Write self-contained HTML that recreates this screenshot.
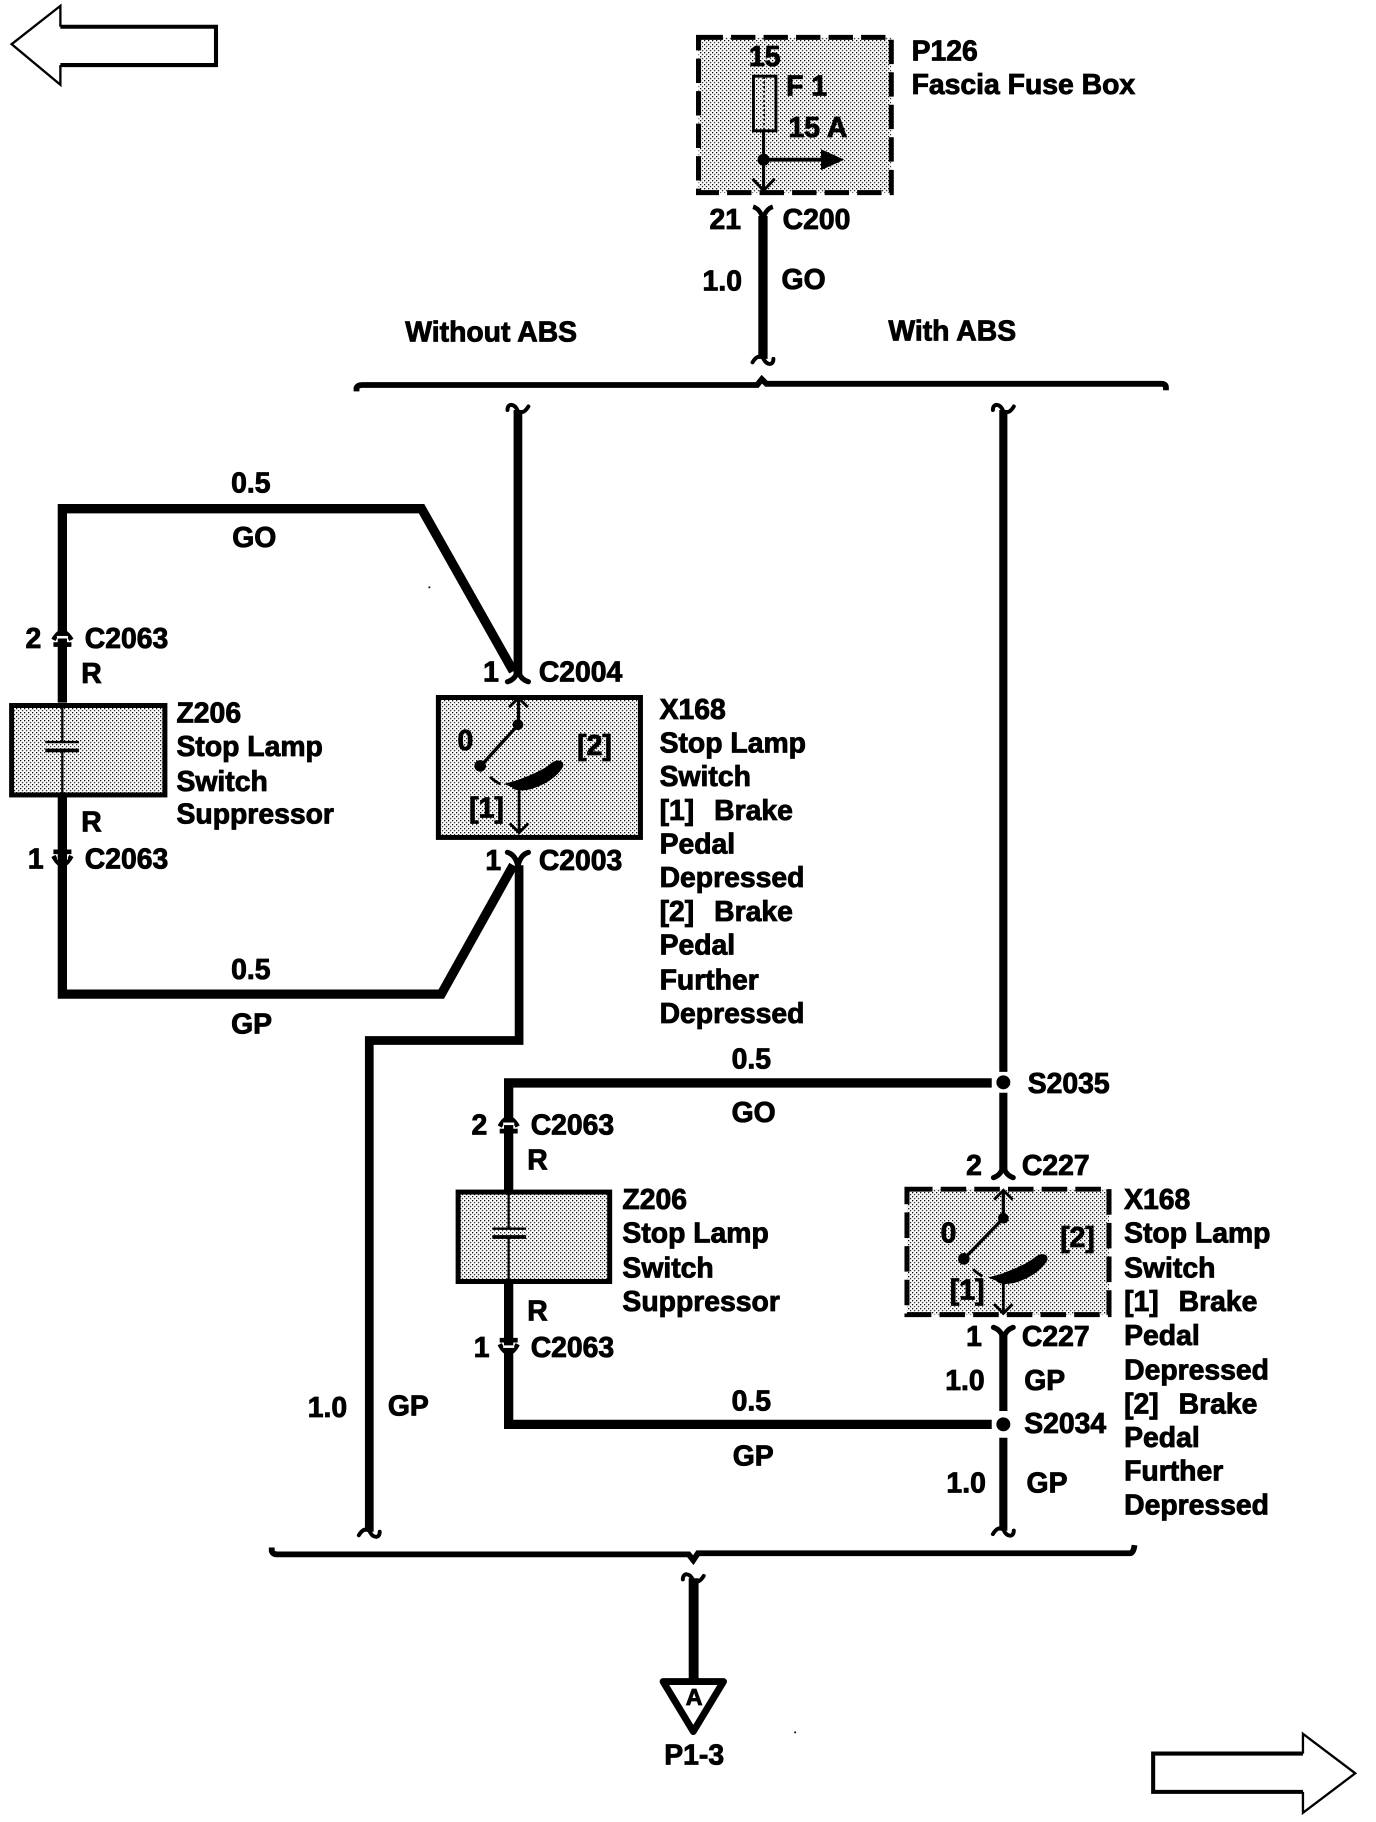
<!DOCTYPE html>
<html><head><meta charset="utf-8">
<style>
html,body{margin:0;padding:0;background:#fff;width:1376px;height:1822px;overflow:hidden}
svg{display:block}
text{font-family:"Liberation Sans",sans-serif;font-weight:bold;font-size:24.4px;fill:#000;stroke:#000;stroke-width:.75px}
.w{fill:none;stroke:#000;stroke-linejoin:miter}
.q{fill:none;stroke:#000;stroke-width:3.4;stroke-linecap:round}
</style></head><body>
<svg xmlns="http://www.w3.org/2000/svg" width="1376" height="1822" viewBox="0 0 1184.9 1568.9">
<defs>
<pattern id="d" width="3.4445" height="3.4445" patternUnits="userSpaceOnUse">
<rect width="3.4445" height="3.4445" fill="#fff"/>
<rect x="0" y="0" width="1.05" height="1.05" fill="#000"/>
<rect x="1.722" y="1.722" width="1.05" height="1.05" fill="#000"/>
</pattern>
</defs>
<rect width="1184.9" height="1568.9" fill="#fff"/>

<!-- page arrows -->
<path d="M52,23H186V56H52" class="w" stroke-width="3.5"/>
<path d="M52,23V5L10,38L52,73V56" class="w" stroke-width="2"/>
<path d="M1122,1510H993V1543H1122" class="w" stroke-width="3.5"/>
<path d="M1122,1510V1493L1167,1527L1122,1561V1543" class="w" stroke-width="2"/>

<!-- fuse box -->
<rect x="601.5" y="32.2" width="166" height="133.6" fill="url(#d)" stroke="#000" stroke-width="4.3" stroke-dasharray="21 7"/>
<rect x="648.8" y="65.6" width="19.4" height="47" fill="none" stroke="#000" stroke-width="2.5"/>
<path d="M658,66V112" class="w" stroke-width="1.5" stroke-dasharray="2 2"/>
<path d="M657.5,112V165M648,154L657.5,164L667,154" class="w" stroke-width="2.6"/>
<circle cx="657.5" cy="137.5" r="5.2"/>
<path d="M657.5,137.5H712" class="w" stroke-width="3.4"/>
<path d="M707,128.5L727,137.5L707,146.5Z"/>
<text x="645" y="57">15</text>
<text x="677" y="82">F 1</text>
<text x="679" y="118">15 A</text>
<text x="785" y="52">P126</text>
<text x="785" y="81">Fascia Fuse Box</text>

<path d="M648.5,178Q655,180 657,189Q659,180 665.5,178" class="w" stroke-width="4"/>
<path d="M657,186V309" class="w" stroke-width="8"/>
<path transform="translate(657,312) rotate(180)" d="M-9,3C-9,-3 -3,-3 0,4C3,6 6,5 9,0" class="q"/>
<text x="611" y="197">21</text>
<text x="674" y="197">C200</text>
<text x="605" y="250">1.0</text>
<text x="673" y="249">GO</text>
<text x="349" y="294">Without ABS</text>
<text x="765" y="293">With ABS</text>

<!-- top brace -->
<path d="M307,337V334Q308,331.5 312,331.5H652L656,326.5L660,330.5H1000Q1004,330.5 1004,333.5V336" class="w" stroke-width="5"/>

<!-- without ABS wire -->
<path transform="translate(446,350)" d="M-9,3C-9,-3 -3,-3 0,4C3,6 6,5 9,0" class="q"/>
<path d="M446,353V582" class="w" stroke-width="7.5"/>
<path d="M53.7,605V438H363L442,578" class="w" stroke-width="8"/>
<path d="M437,587Q444,585 446,577Q448,585 455,587" class="w" stroke-width="4.5" stroke-linecap="round"/>
<text x="199" y="424">0.5</text>
<text x="200" y="471">GO</text>

<text x="22" y="558">2</text>
<text x="73" y="558">C2063</text>
<path d="M46,551Q53.7,537 61.5,551M46,555H61.5" class="w" stroke-width="4"/>
<rect x="49" y="547.6" width="9.5" height="2.2" fill="#fff"/>
<text x="70" y="588">R</text>

<rect x="10" y="607.5" width="132" height="77" fill="url(#d)" stroke="#000" stroke-width="4.3"/>
<path d="M53.7,606V639M53.7,646V686" class="w" stroke-width="2"/>
<path d="M39,639H68" class="w" stroke-width="2"/>
<path d="M39,646.2H68" class="w" stroke-width="3.2"/>
<text x="152" y="622">Z206</text>
<text x="152" y="651">Stop Lamp</text>
<text x="152" y="681">Switch</text>
<text x="152" y="709">Suppressor</text>
<text x="70" y="716">R</text>
<text x="24" y="748">1</text>
<text x="73" y="748">C2063</text>
<path d="M46,733.5H61.5M46,737Q53.7,752 61.5,737" class="w" stroke-width="4"/>
<rect x="49" y="738" width="9.5" height="2.2" fill="#fff"/>
<path d="M53.7,686V856H380L442,745" class="w" stroke-width="8"/>
<text x="199" y="843">0.5</text>
<text x="199" y="890">GP</text>

<!-- X168 solid -->
<rect x="377.5" y="600.6" width="174" height="120.5" fill="url(#d)" stroke="#000" stroke-width="4.3"/>
<path d="M446.5,602V624L413.5,660" class="w" stroke-width="2.8"/>
<path d="M438.5,609L446.5,601L454.5,609" class="w" stroke-width="2.4"/>
<circle cx="446" cy="624" r="4.6"/>
<circle cx="413.5" cy="659.5" r="5"/>
<path d="M422,669Q426,673 431,675" class="w" stroke-width="2.4"/>
<path transform="translate(-417,-425)" d="M851,1100L862,1097C875,1092 885,1088 892,1082C897,1078 903,1080 902,1085C897,1094 885,1102 872,1105C866,1106 860,1106 858,1103Z"/>
<path d="M447,678V717M439,709L447,717L455,709" class="w" stroke-width="2.4"/>
<text x="394" y="646">0</text>
<text x="497" y="650">[2]</text>
<text x="404" y="704">[1]</text>
<text x="416" y="587">1</text>
<text x="464" y="587">C2004</text>
<text x="418" y="749">1</text>
<text x="464" y="749">C2003</text>
<path d="M437,734Q444,736 446,746Q448,736 455,734" class="w" stroke-width="4.5" stroke-linecap="round"/>
<path d="M447,745V896H318V1319" class="w" stroke-width="7.5"/>
<path transform="translate(318,1322) rotate(180)" d="M-9,3C-9,-3 -3,-3 0,4C3,6 6,5 9,0" class="q"/>
<text x="265" y="1220">1.0</text>
<text x="334" y="1219">GP</text>

<text x="568" y="619">X168</text>
<text x="568" y="648">Stop Lamp</text>
<text x="568" y="677">Switch</text>
<text x="568" y="706">[1]</text><text x="615" y="706">Brake</text>
<text x="568" y="735">Pedal</text>
<text x="568" y="764">Depressed</text>
<text x="568" y="793">[2]</text><text x="615" y="793">Brake</text>
<text x="568" y="822">Pedal</text>
<text x="568" y="852">Further</text>
<text x="568" y="881">Depressed</text>

<!-- with ABS wire -->
<path transform="translate(864,350)" d="M-9,3C-9,-3 -3,-3 0,4C3,6 6,5 9,0" class="q"/>
<path d="M864,353V923M864,941V1008" class="w" stroke-width="7"/>
<circle cx="864" cy="932" r="6"/>
<path d="M855.5,1014Q862,1012 864,1004Q866,1012 872.5,1014" class="w" stroke-width="4.5" stroke-linecap="round"/>
<path d="M854,932.5H438V1226.5H854" class="w" stroke-width="8"/>
<text x="630" y="920">0.5</text>
<text x="630" y="966">GO</text>
<text x="885" y="941">S2035</text>
<text x="406" y="977">2</text>
<text x="457" y="977">C2063</text>
<path d="M430.3,970Q438,956 445.8,970M430.3,974H445.8" class="w" stroke-width="4"/>
<rect x="433.3" y="966.6" width="9.5" height="2.2" fill="#fff"/>
<text x="454" y="1007">R</text>
<rect x="394.5" y="1026.5" width="130.5" height="77" fill="url(#d)" stroke="#000" stroke-width="4.3"/>
<path d="M438,1025V1058M438,1065V1105" class="w" stroke-width="2"/>
<path d="M424,1058H453" class="w" stroke-width="2"/>
<path d="M424,1065.2H453" class="w" stroke-width="3.2"/>
<text x="536" y="1041">Z206</text>
<text x="536" y="1070">Stop Lamp</text>
<text x="536" y="1100">Switch</text>
<text x="536" y="1129">Suppressor</text>
<text x="454" y="1137">R</text>
<text x="408" y="1168.5">1</text>
<text x="457" y="1168.5">C2063</text>
<path d="M430.3,1154H445.8M430.3,1157.5Q438,1172.5 445.8,1157.5" class="w" stroke-width="4"/>
<rect x="433.3" y="1158.5" width="9.5" height="2.2" fill="#fff"/>
<text x="630" y="1214.5">0.5</text>
<text x="631" y="1262">GP</text>

<!-- X168 dashed -->
<rect x="781" y="1024" width="174" height="108" fill="url(#d)" stroke="#000" stroke-width="4.3" stroke-dasharray="22 7"/>
<path d="M864,1026V1049L830,1084" class="w" stroke-width="2.8"/>
<path d="M856,1033L864,1025L872,1033" class="w" stroke-width="2.4"/>
<circle cx="864" cy="1049" r="4.6"/>
<circle cx="830" cy="1084" r="5"/>
<path d="M838,1093Q842,1097 846,1099" class="w" stroke-width="2.4"/>
<path d="M851,1100L862,1097C875,1092 885,1088 892,1082C897,1078 903,1080 902,1085C897,1094 885,1102 872,1105C866,1106 860,1106 858,1103Z"/>
<path d="M864,1104V1130.5M856,1123L864,1131L872,1123" class="w" stroke-width="2.4"/>
<text x="810" y="1070">0</text>
<text x="913" y="1074">[2]</text>
<text x="818" y="1119">[1]</text>
<text x="832" y="1012">2</text>
<text x="880" y="1012">C227</text>
<text x="832" y="1159">1</text>
<text x="880" y="1159">C227</text>
<path d="M855.5,1143Q862,1145 864,1153Q866,1145 872.5,1143" class="w" stroke-width="4.5" stroke-linecap="round"/>
<path d="M864,1150V1215M864,1238V1318" class="w" stroke-width="7"/>
<circle cx="864" cy="1226.5" r="6"/>
<path transform="translate(864,1321) rotate(180)" d="M-9,3C-9,-3 -3,-3 0,4C3,6 6,5 9,0" class="q"/>
<text x="814" y="1197">1.0</text>
<text x="882" y="1197">GP</text>
<text x="882" y="1234">S2034</text>
<text x="815" y="1285">1.0</text>
<text x="884" y="1285">GP</text>

<text x="968" y="1041">X168</text>
<text x="968" y="1070">Stop Lamp</text>
<text x="968" y="1100">Switch</text>
<text x="968" y="1129">[1]</text><text x="1015" y="1129">Brake</text>
<text x="968" y="1158">Pedal</text>
<text x="968" y="1188">Depressed</text>
<text x="968" y="1217">[2]</text><text x="1015" y="1217">Brake</text>
<text x="968" y="1246">Pedal</text>
<text x="968" y="1275">Further</text>
<text x="968" y="1304">Depressed</text>

<!-- bottom brace -->
<path d="M234,1332.5V1335.5Q235,1338.5 239,1338.5H593L597,1343.5L601,1337.5H973Q976,1337.5 977,1330.5" class="w" stroke-width="5"/>

<path transform="translate(597,1357)" d="M-9,3C-9,-3 -3,-3 0,4C3,6 6,5 9,0" class="q"/>
<path d="M597.3,1359V1448" class="w" stroke-width="8.5"/>
<path d="M571,1448H623L597,1491Z" fill="#fff" stroke="#000" stroke-width="6" stroke-linejoin="round"/>
<text x="590.5" y="1468" style="font-size:20px">A</text>
<text x="572" y="1519.5">P1-3</text>

<rect x="369" y="505" width="1.5" height="1.5"/>
<rect x="684" y="1491" width="1.5" height="1.5"/>
</svg>
</body></html>
